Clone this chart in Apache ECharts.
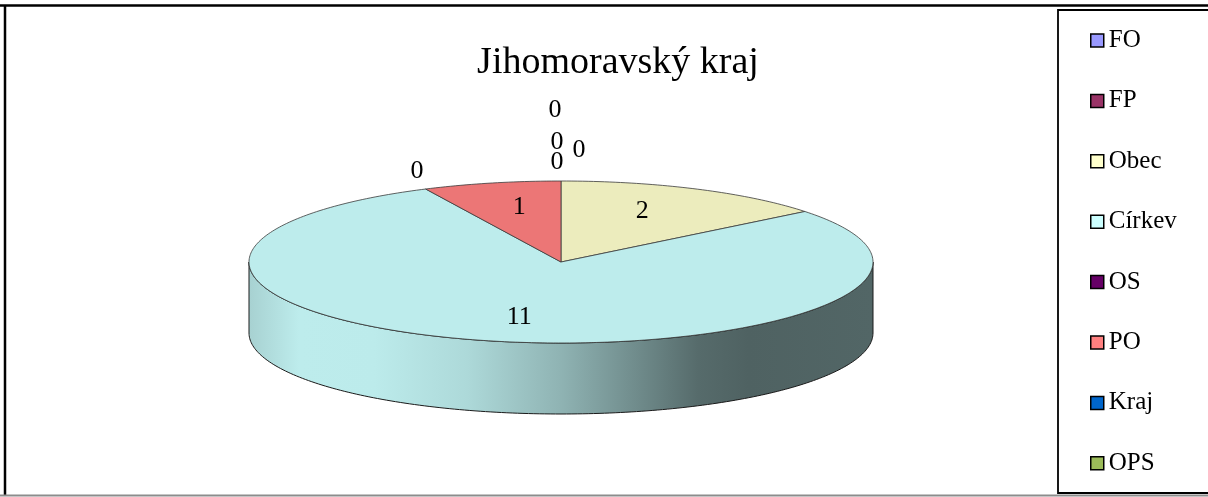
<!DOCTYPE html>
<html>
<head>
<meta charset="utf-8">
<script src="https://cdn.jsdelivr.net/npm/echarts@6/dist/echarts.min.js"></script>
<style>
  html, body { margin: 0; padding: 0; background: #fff; }
  #chart { width: 1208px; height: 497px; }
</style>
</head>
<body>
<div id="chart"></div>
<script>
// data
const categories = ["FO", "FP", "Obec", "Církev", "OS", "PO", "Kraj", "OPS"];
const values = [0, 0, 2, 11, 0, 1, 0, 0];
const colors = ["#9999FF", "#993366", "#FFFFCC", "#CCFFFF", "#660066", "#FF8080", "#0066CC", "#9BBB59"];
const titleText = "Jihomoravský kraj";

// pie geometry (flattened ellipse + wall depth)
const cx = 561, cy = 262, rx = 312, ry = 81, depth = 71;
// nudges for the zero labels that pile up at the top
const labelShift = [[18, -11], [-6, -51], [0, 0], [0, 0], [0, 0], [0, 0], [-4, -19], [-4, 1]];

const total = values.reduce((a, b) => a + b, 0);
const starts = [];
let acc = 0;
values.forEach(v => { starts.push(acc / total * 360); acc += v; });

// point on the ellipse, angle clockwise from 12 o'clock
function pt(deg, f, dy) {
  const r = deg * Math.PI / 180;
  return [cx + rx * f * Math.sin(r), cy - ry * f * Math.cos(r) + (dy || 0)];
}

function shade(hex, k) {
  const n = parseInt(hex.slice(1), 16);
  const r = Math.round(((n >> 16) & 255) * k);
  const g = Math.round(((n >> 8) & 255) * k);
  const b = Math.round((n & 255) * k);
  return "rgb(" + r + "," + g + "," + b + ")";
}

function wallFill(hex) {
  const stops = [[0, .82], [.08, .925], [.2, .92], [.35, .85], [.5, .70], [.62, .55], [.72, .42], [.8, .385], [1, .40]];
  return {
    type: "linear", global: true,
    x: cx - rx, y: 0, x2: cx + rx, y2: 0,
    colorStops: stops.map(s => ({ offset: s[0], color: shade(hex, s[1]) }))
  };
}

function labelStyle(text, x, y) {
  return {
    text: text, x: x, y: y,
    fontSize: 26, fontFamily: "Liberation Serif",
    fill: "#000", align: "center", verticalAlign: "middle"
  };
}

function renderSlice(params, api) {
  const i = params.seriesIndex;
  const v = api.value(0);
  const a0 = starts[i];
  const a1 = a0 + v / total * 360;
  const children = [];

  if (v > 0) {
    // front wall, only the part facing the viewer
    const s0 = Math.max(a0, 90), s1 = Math.min(a1, 270);
    if (s1 > s0) {
      const pts = [];
      for (let a = s0; a < s1; a += 1) pts.push(pt(a, 1));
      pts.push(pt(s1, 1));
      for (let a = s1; a > s0; a -= 1) pts.push(pt(a, 1, depth));
      pts.push(pt(s0, 1, depth));
      children.push({
        type: "polygon",
        shape: { points: pts },
        style: { fill: wallFill(colors[i]), stroke: "#1a1a1a", lineWidth: 1 }
      });
    }
    // top face
    const top = [[cx, cy]];
    for (let a = a0; a < a1; a += 1) top.push(pt(a, 1));
    top.push(pt(a1, 1));
    children.push({
      type: "polygon",
      shape: { points: top },
      style: { fill: shade(colors[i], .925), stroke: "#3a3a3a", lineWidth: 0.8 }
    });
    // value label inside the slice
    const m = (a0 + a1) / 2 * Math.PI / 180;
    children.push({
      type: "text",
      z2: 10,
      style: labelStyle(String(v), cx + rx * 0.6 * Math.sin(m), cy - ry * 0.7 * Math.cos(m))
    });
  } else {
    // zero slice: label just outside the rim
    const m = a0 * Math.PI / 180;
    const e = pt(a0, 1);
    children.push({
      type: "text",
      z2: 10,
      style: labelStyle(String(v),
        e[0] + 20 * Math.sin(m) + labelShift[i][0],
        e[1] - 20 * Math.cos(m) + labelShift[i][1])
    });
  }
  return { type: "group", children: children };
}

const chart = echarts.init(document.getElementById("chart"));

chart.setOption({
  animation: false,
  color: colors,
  title: {
    text: titleText,
    left: 613,
    top: 39,
    textAlign: "center",
    textStyle: { fontFamily: "Liberation Serif", fontSize: 38, fontWeight: "normal", color: "#000" }
  },
  legend: {
    orient: "vertical",
    left: 1085,
    top: 23,
    icon: "rect",
    itemWidth: 13,
    itemHeight: 13,
    itemGap: 35.4,
    selectedMode: false,
    itemStyle: { borderColor: "#000", borderWidth: 1.5 },
    textStyle: { fontFamily: "Liberation Serif", fontSize: 25, lineHeight: 24, color: "#000" },
    data: categories
  },
  graphic: [
    { type: "line", shape: { x1: 0, y1: 5.5, x2: 1208, y2: 5.5 }, style: { stroke: "#000", lineWidth: 2.5 } },
    { type: "line", shape: { x1: 5, y1: 5, x2: 5, y2: 495 }, style: { stroke: "#000", lineWidth: 2.5 } },
    { type: "line", shape: { x1: 0, y1: 495.5, x2: 1208, y2: 495.5 }, style: { stroke: "#8c8c8c", lineWidth: 2 } },
    { type: "rect", shape: { x: 1058, y: 10, width: 200, height: 483 }, style: { fill: "none", stroke: "#000", lineWidth: 1.8 } }
  ],
  series: categories.map((name, i) => ({
    type: "custom",
    name: name,
    coordinateSystem: "none",
    itemStyle: { color: colors[i] },
    renderItem: renderSlice,
    data: [[values[i]]]
  }))
});
</script>
</body>
</html>
